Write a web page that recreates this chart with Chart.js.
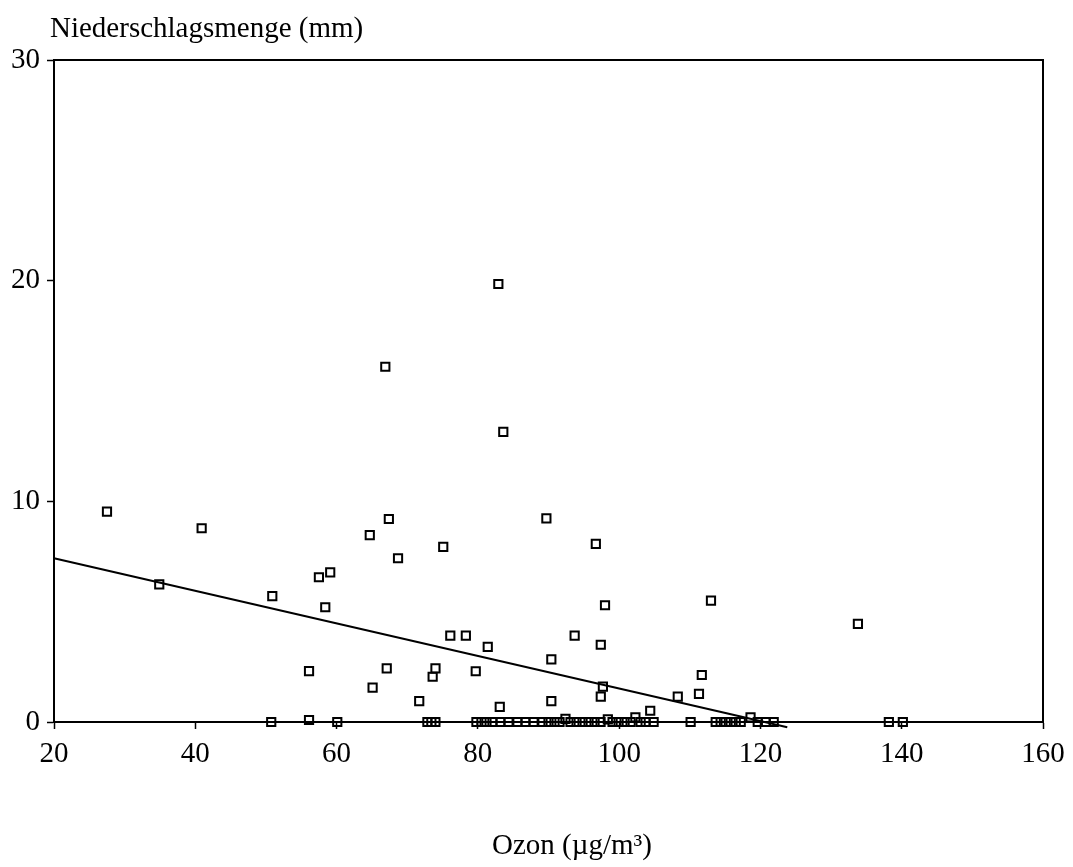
<!DOCTYPE html>
<html>
<head>
<meta charset="utf-8">
<script src="https://cdn.jsdelivr.net/npm/chart.js@4/dist/chart.umd.min.js"></script>
<style>
  html, body { margin: 0; padding: 0; background: #fff; }
  #wrap { width: 1073px; height: 867px; position: relative; }
</style>
</head>
<body>
<div id="wrap"><canvas id="c" width="1073" height="867"></canvas></div>
<script>
// Ozon (µg/m³) values of the observations
const ozon = [
  27.5, 34.9, 40.9, 50.9, 56.1, 57.5, 58.4, 59.1, 64.7, 65.1,
  66.9, 67.1, 67.4, 68.7, 71.7, 73.6, 74.0, 75.1, 76.1, 78.3,
  79.7, 81.4, 82.9, 83.1, 83.6, 89.7, 90.4, 90.4, 92.4, 93.7,
  96.7, 97.4, 97.4, 97.7, 98.0, 98.4, 102.3, 104.4, 108.3, 111.3,
  111.7, 113.0, 118.6, 133.8, 56.1,
  50.75, 60.1, 72.86, 73.42, 73.99, 79.8, 80.51, 81.22, 82.07, 83.2,
  84.33, 85.61, 86.74, 87.88, 89.15, 90.0, 90.85, 91.56, 93.12, 93.97,
  94.82, 95.67, 96.52, 97.37, 99.07, 99.92, 100.77, 101.62, 103.04, 103.75,
  104.88, 110.12, 113.67, 114.37, 115.08, 115.79, 116.5, 117.21, 119.62, 120.75,
  121.88, 138.18, 140.16
];
// Niederschlagsmenge (mm) of the same observations
const niederschlag = [
  9.53, 6.24, 8.78, 5.70, 2.31, 6.56, 5.20, 6.78, 8.47, 1.56,
  16.1, 2.43, 9.20, 7.42, 0.95, 2.05, 2.43, 7.94, 3.91, 3.91,
  2.30, 3.40, 19.85, 0.69, 13.15, 9.23, 2.84, 0.95, 0.14, 3.91,
  8.07, 3.50, 1.15, 1.60, 5.29, 0.12, 0.21, 0.51, 1.15, 1.27,
  2.13, 5.50, 0.21, 4.45, 0.09,
  0, 0, 0, 0, 0, 0, 0, 0, 0, 0,
  0, 0, 0, 0, 0, 0, 0, 0, 0, 0,
  0, 0, 0, 0, 0, 0, 0, 0, 0, 0,
  0, 0, 0, 0, 0, 0, 0, 0, 0, 0,
  0, 0, 0
];
// Regression line end points
const trendX = [20, 123.8];
const trendY = [7.42, -0.24];

const xTicks = [20, 40, 60, 80, 100, 120, 140, 160];
const yTicks = [0, 10, 20, 30];
const yTitle = 'Niederschlagsmenge (mm)';
const xTitle = 'Ozon (µg/m³)';

const FONT = '"Liberation Serif", "Times New Roman", serif';
const FSIZE = 29;

const points = ozon.map((x, i) => ({ x: x, y: niederschlag[i] }));
const trend = trendX.map((x, i) => ({ x: x, y: trendY[i] }));

const framePlugin = {
  id: 'frame',
  afterDraw(chart) {
    const { ctx, chartArea } = chart;
    ctx.save();
    ctx.strokeStyle = '#000';
    ctx.lineWidth = 2;
    ctx.beginPath();
    ctx.moveTo(chartArea.left, chartArea.top);
    ctx.lineTo(chartArea.right, chartArea.top);
    ctx.lineTo(chartArea.right, chartArea.bottom);
    ctx.stroke();
    ctx.fillStyle = '#000';
    ctx.font = FSIZE + 'px ' + FONT;
    ctx.textBaseline = 'alphabetic';
    ctx.textAlign = 'left';
    ctx.fillText(yTitle, 50, 37);
    ctx.textAlign = 'center';
    ctx.fillText(xTitle, 572, 854);
    ctx.restore();
  }
};

new Chart(document.getElementById('c'), {
  type: 'scatter',
  data: {
    datasets: [
      {
        type: 'line',
        data: trend,
        borderColor: '#000',
        borderWidth: 2,
        pointRadius: 0,
        fill: false,
        clip: false,
        order: 2
      },
      {
        data: points,
        pointStyle: 'rect',
        pointRadius: 5.8,
        pointBorderWidth: 2,
        pointBorderColor: '#000',
        pointBackgroundColor: 'rgba(255,255,255,0)',
        showLine: false,
        clip: false,
        order: 1
      }
    ]
  },
  plugins: [framePlugin],
  options: {
    responsive: false,
    animation: false,
    devicePixelRatio: 1,
    layout: { padding: { top: 60, right: 30, left: 0, bottom: 0 } },
    plugins: {
      legend: { display: false },
      tooltip: { enabled: false },
      title: { display: false }
    },
    scales: {
      x: {
        type: 'linear',
        min: 20,
        max: 160,
        afterBuildTicks(scale) { scale.ticks = xTicks.map(v => ({ value: v })); },
        afterFit(scale) { scale.height = 145; },
        ticks: {
          color: '#000',
          font: { family: FONT, size: FSIZE },
          padding: 8,
          maxRotation: 0
        },
        grid: {
          drawOnChartArea: false,
          drawTicks: true,
          tickLength: 7,
          tickColor: '#000',
          tickWidth: 1.5
        },
        border: { display: true, color: '#000', width: 2 }
      },
      y: {
        type: 'linear',
        min: 0,
        max: 30,
        afterBuildTicks(scale) { scale.ticks = yTicks.map(v => ({ value: v })); },
        afterFit(scale) { scale.width = 54; },
        ticks: {
          color: '#000',
          font: { family: FONT, size: FSIZE },
          padding: 7
        },
        grid: {
          drawOnChartArea: false,
          drawTicks: true,
          tickLength: 7,
          tickColor: '#000',
          tickWidth: 1.5
        },
        border: { display: true, color: '#000', width: 2 }
      }
    }
  }
});
</script>
</body>
</html>
